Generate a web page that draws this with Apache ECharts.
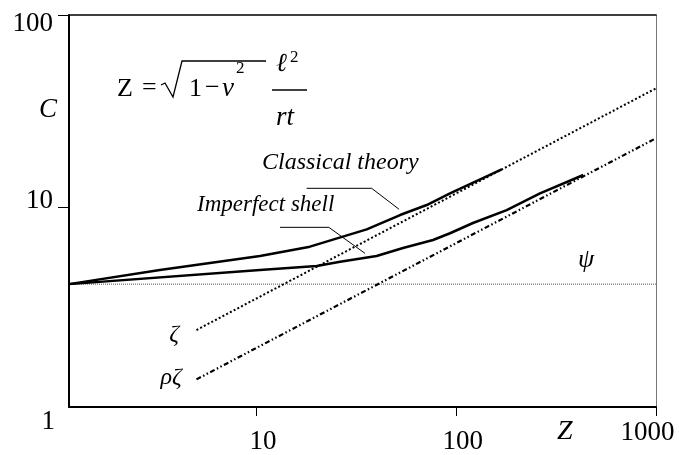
<!DOCTYPE html>
<html><head><meta charset="utf-8">
<script src="https://cdn.jsdelivr.net/npm/echarts@6/dist/echarts.min.js"></script>
<style>html,body{margin:0;padding:0;background:#fff}#c{width:679px;height:455px}</style>
</head><body><div id="c"></div>
<script>
// ---- data (log-log axes) ----
const xTickValues = [10, 100, 1000];
const yTickValues = [1, 10, 100];
const classicalZ = [1.15, 3.28, 10.4, 18.5, 35.6, 52.3, 71.1, 93.0, 168.8];
const classicalC = [4.0, 4.74, 5.60, 6.26, 7.70, 9.14, 10.3, 11.85, 15.8];
const imperfectZ = [1.15, 10.4, 20.0, 26.2, 39.9, 54.1, 76.5, 93.0, 121.2, 178.8, 262.5, 432.6];
const imperfectC = [4.0, 4.74, 4.97, 5.23, 5.60, 6.16, 6.78, 7.35, 8.31, 9.70, 11.85, 14.75];
const psiZ = [1.15, 1000];
const psiC = [4, 4];
const zetaZ = [5, 1000];
const zetaC = [2.31, 41.6];
const rhoZetaZ = [5, 1000];
const rhoZetaC = [1.28, 22.9];
const classicalLeaderZ = [17.8, 37.7, 51.7];
const classicalLeaderC = [12.58, 12.58, 9.79];
const imperfectLeaderZ = [13.1, 23.0, 34.9];
const imperfectLeaderC = [7.89, 7.89, 5.78];

const pair = (xs, ys) => xs.map((x, i) => [x, ys[i]]);
const SERIF = "'Liberation Serif','DejaVu Serif',serif";

const chart = echarts.init(document.getElementById('c'), null, {renderer: 'canvas'});

function lineSeries(name, xs, ys, style) {
  return {name, type: 'line', data: pair(xs, ys), symbol: 'none', xAxisIndex: 0, yAxisIndex: 0,
    lineStyle: style, silent: true, animation: false};
}
// y given as text baseline
function txt(text, x, baseline, size, opts) {
  return {type: 'text', x, y: baseline - 0.305 * size, silent: true,
    style: {text, fill: '#000', font: (opts && opts.italic ? 'italic ' : '') + size + 'px ' + SERIF,
      textAlign: (opts && opts.align) || 'left', textVerticalAlign: 'middle'}};
}

const lblBase = {fontFamily: SERIF, fontSize: 27, color: '#000'};

const option = {
  animation: false,
  backgroundColor: '#fff',
  grid: {left: 69, right: 23, top: 15, bottom: 48, containLabel: false},
  xAxis: [
    {type: 'log', logBase: 10, min: 1.15, max: 1000, position: 'bottom',
     axisLine: {show: true, lineStyle: {color: '#000', width: 2}},
     axisTick: {show: true, customValues: xTickValues, length: 9, lineStyle: {color: '#000', width: 1}},
     axisLabel: {show: true, customValues: xTickValues, margin: 12, hideOverlap: false,
       formatter: v => (Math.round(v) === 1000 ? '{b|1000}' : '{a|' + Math.round(v) + '}'),
       rich: {a: Object.assign({padding: [9, 0, 0, 13]}, lblBase), b: Object.assign({padding: [0, 17, 0, 0]}, lblBase)}},
     splitLine: {show: false}, minorTick: {show: false}},
    {type: 'log', logBase: 10, min: 1.15, max: 1000, position: 'top',
     axisLine: {show: true, lineStyle: {color: '#000', width: 1.5}},
     axisTick: {show: false}, axisLabel: {show: false}, splitLine: {show: false}}
  ],
  yAxis: [
    {type: 'log', logBase: 10, min: 0.92, max: 100, position: 'left',
     axisLine: {show: true, lineStyle: {color: '#000', width: 2}},
     axisTick: {show: true, customValues: [10, 100], length: 11, lineStyle: {color: '#000', width: 1}},
     axisLabel: {show: true, customValues: yTickValues, margin: 14, hideOverlap: false,
       formatter: v => { const r = Math.round(v); return r === 100 ? '{a|100}' : (r === 10 ? '{b|10}' : '{c|1}'); },
       rich: {a: Object.assign({padding: [18, 2, 0, 0]}, lblBase), b: Object.assign({padding: [0, 2, 13, 0]}, lblBase),
              c: Object.assign({padding: [44, 0, 0, 0]}, lblBase)}},
     splitLine: {show: false}, minorTick: {show: false}},
    {type: 'log', logBase: 10, min: 0.92, max: 100, position: 'right',
     axisLine: {show: true, lineStyle: {color: '#777', width: 1}},
     axisTick: {show: false}, axisLabel: {show: false}, splitLine: {show: false}}
  ],
  series: [
    lineSeries('psi', psiZ, psiC, {color: '#555', width: 1, type: [1, 1]}),
    lineSeries('zeta', zetaZ, zetaC, {color: '#000', width: 2, type: [2, 2.2]}),
    lineSeries('rhoZeta', rhoZetaZ, rhoZetaC, {color: '#000', width: 2.2, type: [5, 2.5, 1.5, 2.5, 1.5, 2.5]}),
    lineSeries('classical', classicalZ, classicalC, {color: '#000', width: 2.5}),
    lineSeries('imperfect', imperfectZ, imperfectC, {color: '#000', width: 2.5}),
    lineSeries('classicalLeader', classicalLeaderZ, classicalLeaderC, {color: '#000', width: 1}),
    lineSeries('imperfectLeader', imperfectLeaderZ, imperfectLeaderC, {color: '#000', width: 1})
  ],
  graphic: [
    // formula Z = sqrt(1 - nu^2) l^2 / rt
    txt('Z', 117, 97, 26),
    txt('=', 142, 96, 26),
    {type: 'polyline', silent: true, shape: {points: [[161, 85], [165, 83], [173, 97], [182, 61], [266, 61]]},
     style: {stroke: '#000', lineWidth: 1.3, fill: null}},
    txt('1', 189, 97, 26),
    txt('\u2212', 205, 96, 26),
    txt('\u03BD', 222, 97, 27, {italic: true}),
    txt('2', 236, 74, 17),
    txt('\u2113', 276, 72, 26, {italic: true}),
    txt('2', 290, 63, 17),
    {type: 'line', silent: true, shape: {x1: 272, y1: 90, x2: 307, y2: 90}, style: {stroke: '#000', lineWidth: 1.3}},
    txt('rt', 276, 126, 27, {italic: true}),
    // axis titles and curve labels
    txt('C', 39, 118, 27, {italic: true}),
    txt('Z', 557, 440, 28, {italic: true}),
    txt('\u03C8', 586, 268, 26, {italic: true, align: 'center'}),
    txt('\u03B6', 174, 342, 24, {italic: true, align: 'center'}),
    txt('\u03C1\u03B6', 171, 385, 24, {italic: true, align: 'center'}),
    txt('Classical theory', 262, 170.5, 24, {italic: true}),
    txt('Imperfect shell', 197, 212, 23, {italic: true})
  ]
};
chart.setOption(option);
</script>
</body></html>
